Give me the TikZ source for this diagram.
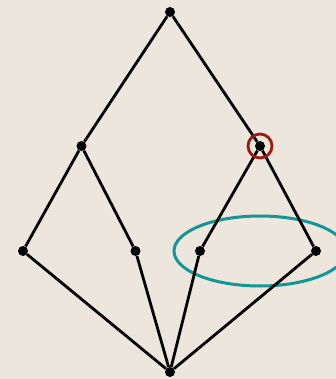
\documentclass[tikz,border=0pt]{standalone}
\usepackage{xcolor}
\usepackage{tikz}

\definecolor{paper}{RGB}{236,230,221}
\definecolor{ringred}{RGB}{158,26,12}
\definecolor{setteal}{RGB}{18,150,150}

\begin{document}
\begin{tikzpicture}[
  x=1pt,
  y=-1pt,
  dot/.style={circle, fill=black, inner sep=0pt, minimum size=10pt},
  edge/.style={line width=2.8pt},
]
\fill[paper] (0,0) rectangle (336,379);
\path[use as bounding box] (0,0) rectangle (336,379);

% Vertices of the lattice.
\node[dot] (top) at (170,12) {};
\node[dot] (midL) at (81.5,146) {};
\node[dot] (midR) at (260,146) {};
\node[dot] (botA) at (23,251) {};
\node[dot] (botB) at (135.5,251) {};
\node[dot] (botC) at (200,251) {};
\node[dot] (botD) at (316,251) {};
\node[dot] (base) at (170,372) {};

% Highlighted pair.
\draw[setteal, line width=3pt] (260,251) ellipse [x radius=86, y radius=35];

% Covering relations.
\draw[edge] (top) -- (midL);
\draw[edge] (top) -- (midR);
\draw[edge] (midL) -- (botA);
\draw[edge] (midL) -- (botB);
\draw[edge] (midR) -- (botC);
\draw[edge] (midR) -- (botD);
\foreach \v in {botA,botB,botC,botD} {
  \draw[edge] (\v) -- (base);
}

% Marked vertex.
\draw[ringred, line width=2.8pt] (midR) circle (12);

\end{tikzpicture}
\end{document}
